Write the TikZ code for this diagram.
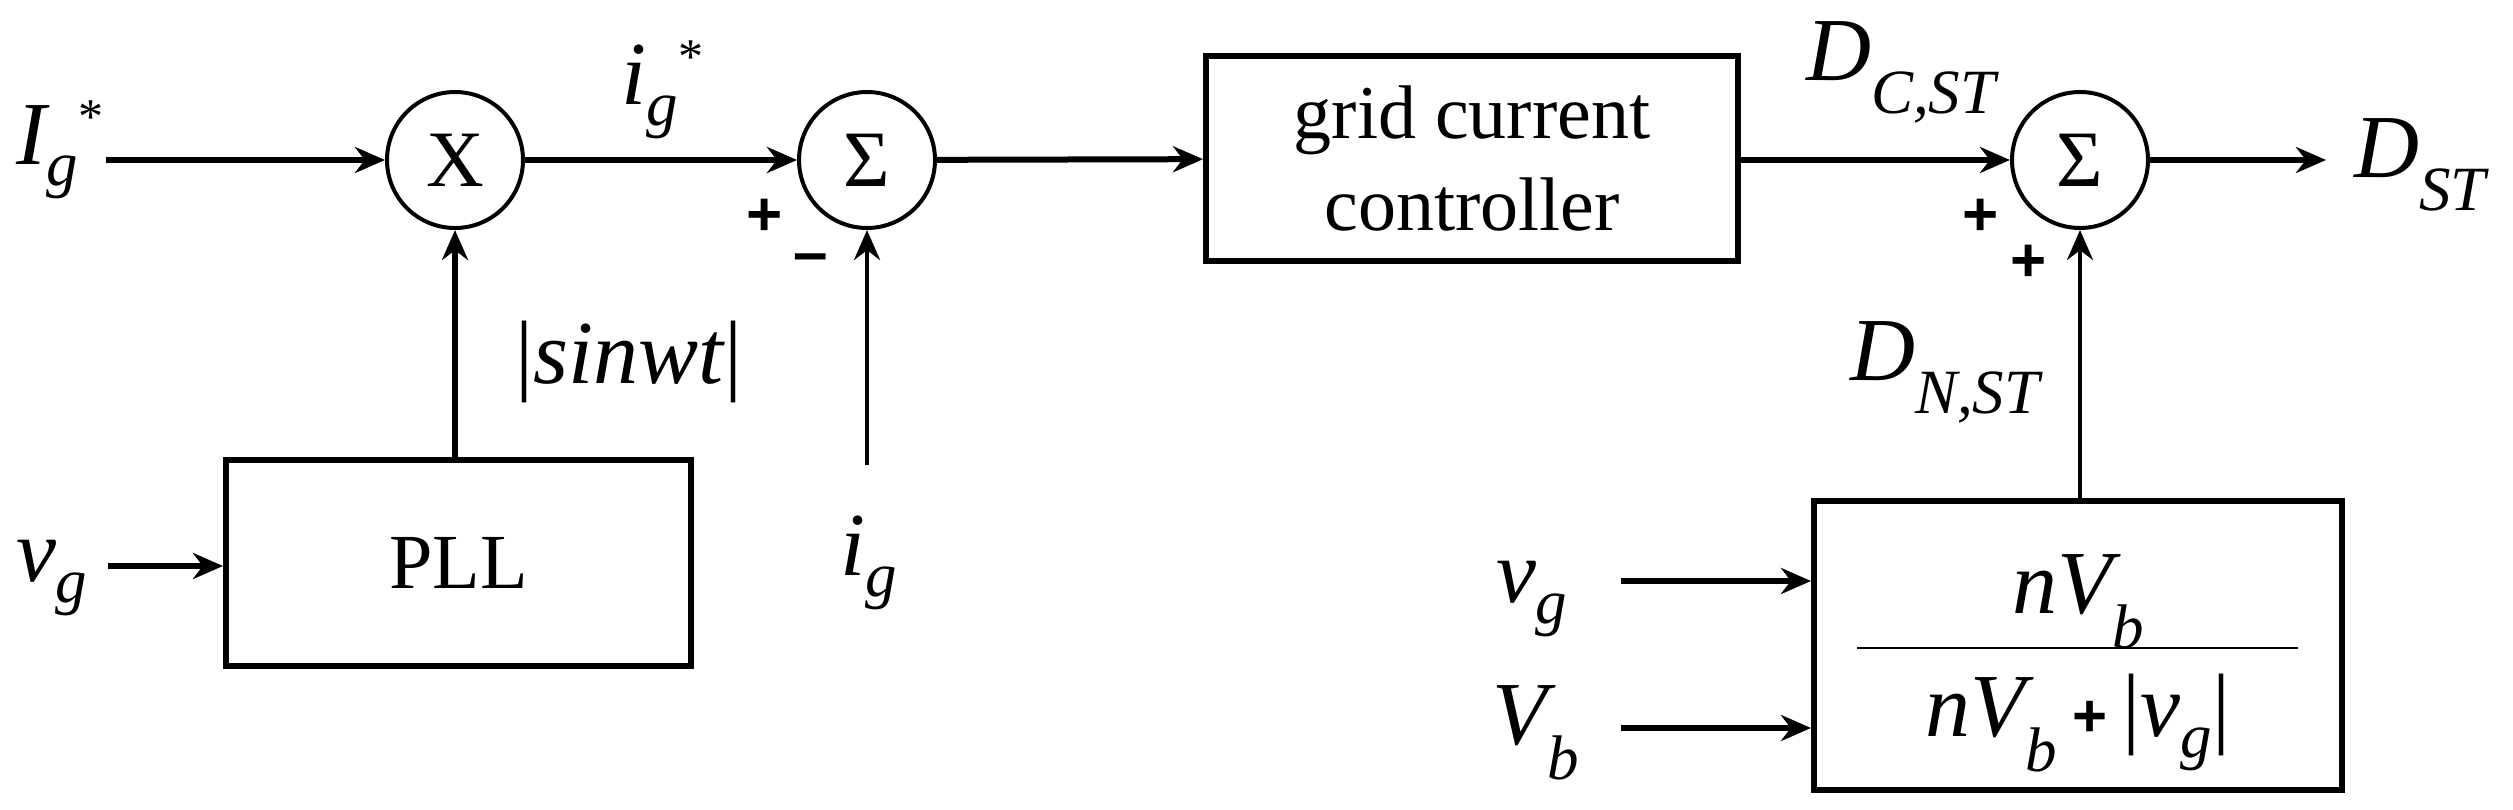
\documentclass[tikz,border=0pt]{standalone}
\usepackage{fontspec}
\setmainfont{Liberation Serif}
\newfontfamily\sgnfont{Liberation Sans}
\usetikzlibrary{arrows.meta}
\newcommand{\sbs}[1]{\textsubscript{\textit{#1}}}
\newcommand{\supst}{\raisebox{0.35em}{\textup{\fontsize{50}{50}\selectfont *}}}
\begin{document}
\begin{tikzpicture}[x=1pt,y=-1pt,
  arr/.style={line width=6pt,-{Stealth[length=30pt,width=26pt]}},
  sumnode/.style={circle,draw,line width=4pt,minimum size=136pt,inner sep=0pt,font=\fontsize{80}{80}\selectfont},
  blk/.style={draw,line width=6pt,inner sep=0pt},
  lbl/.style={inner sep=0pt,font=\fontsize{90}{90}\selectfont\itshape},
  sgn/.style={inner sep=0pt,font=\fontsize{62}{62}\selectfont\sgnfont\bfseries}]
\useasboundingbox (0,0) rectangle (2513,810);
\node[sumnode] (mul) at (455,160) {X};
\node[sumnode] (s1) at (867,160) {Σ};
\node[sumnode] (s2) at (2080,160) {Σ};
\node[blk,minimum width=465pt,minimum height=206pt,font=\fontsize{78}{80}\selectfont] (pll) at (458.5,563) {PLL};
\node[blk,minimum width=532pt,minimum height=205pt,font=\fontsize{76}{92}\selectfont,align=center] (gcc) at (1472,158.5) {grid current\\controller};
\node[blk,minimum width=528pt,minimum height=289pt] (frac) at (2078,645.5) {};
\draw[line width=2pt] (1857,648) -- (2298,648);
\node[lbl] (num) at (2078,602) {nV\sbs{b}};
\node[lbl] (den) at (2078,723) {nV\sbs{b}\,\textup{\fontsize{60}{60}\selectfont\sgnfont\bfseries +}\,\textup{|}v\sbs{g}\textup{|}};
% inputs
\coordinate (iin) at (106,160);
\coordinate (vin) at (108,566);
\coordinate (igin) at (867,465);
\coordinate (vgin) at (1621,581);
\coordinate (vbin) at (1621,728);
\coordinate (dout) at (2326,160);
\draw[arr] (iin) -- (mul);
\draw[arr] (mul) -- (s1);
\draw[arr] (s1) -- (gcc);
\draw[arr] (gcc.east |- s2) -- (s2);
\draw[arr] (s2) -- (dout);
\draw[arr] (vin) -- (pll.west |- vin);
\draw[arr] (pll.north -| mul) -- (mul);
\draw[arr,line width=4pt] (igin) -- (s1);
\draw[arr,line width=4pt] (frac.north -| s2) -- (s2);
\draw[arr] (vgin) -- (frac.west |- vgin);
\draw[arr] (vbin) -- (frac.west |- vbin);
% labels
\node[lbl] (lI) at (60,150) {I\sbs{g}\supst};
\node[lbl] (lv) at (52,578) {v\sbs{g}};
\node[lbl] (lig) at (662,90) {i\sbs{g}\supst};
\node[lbl] (lsin) at (629,362) {\textup{|}sinwt\textup{|}};
\node[lbl] (lig2) at (869,563) {i\sbs{g}};
\node[lbl] (ldc) at (1901,72) {D\sbs{C,ST}};
\node[lbl] (ldn) at (1945,372) {D\sbs{N,ST}};
\node[lbl] (lds) at (2420,165) {D\sbs{ST}};
\node[lbl] (lvg) at (1532,599) {v\sbs{g}};
\node[lbl] (lvb) at (1536,733) {V\sbs{b}};
\node[sgn] (p1) at (765,217) {+};
\node[sgn] (m1) at (811,264) {–};
\node[sgn] (p2) at (1981,217) {+};
\node[sgn] (p3) at (2029,263) {+};
\end{tikzpicture}
\end{document}
